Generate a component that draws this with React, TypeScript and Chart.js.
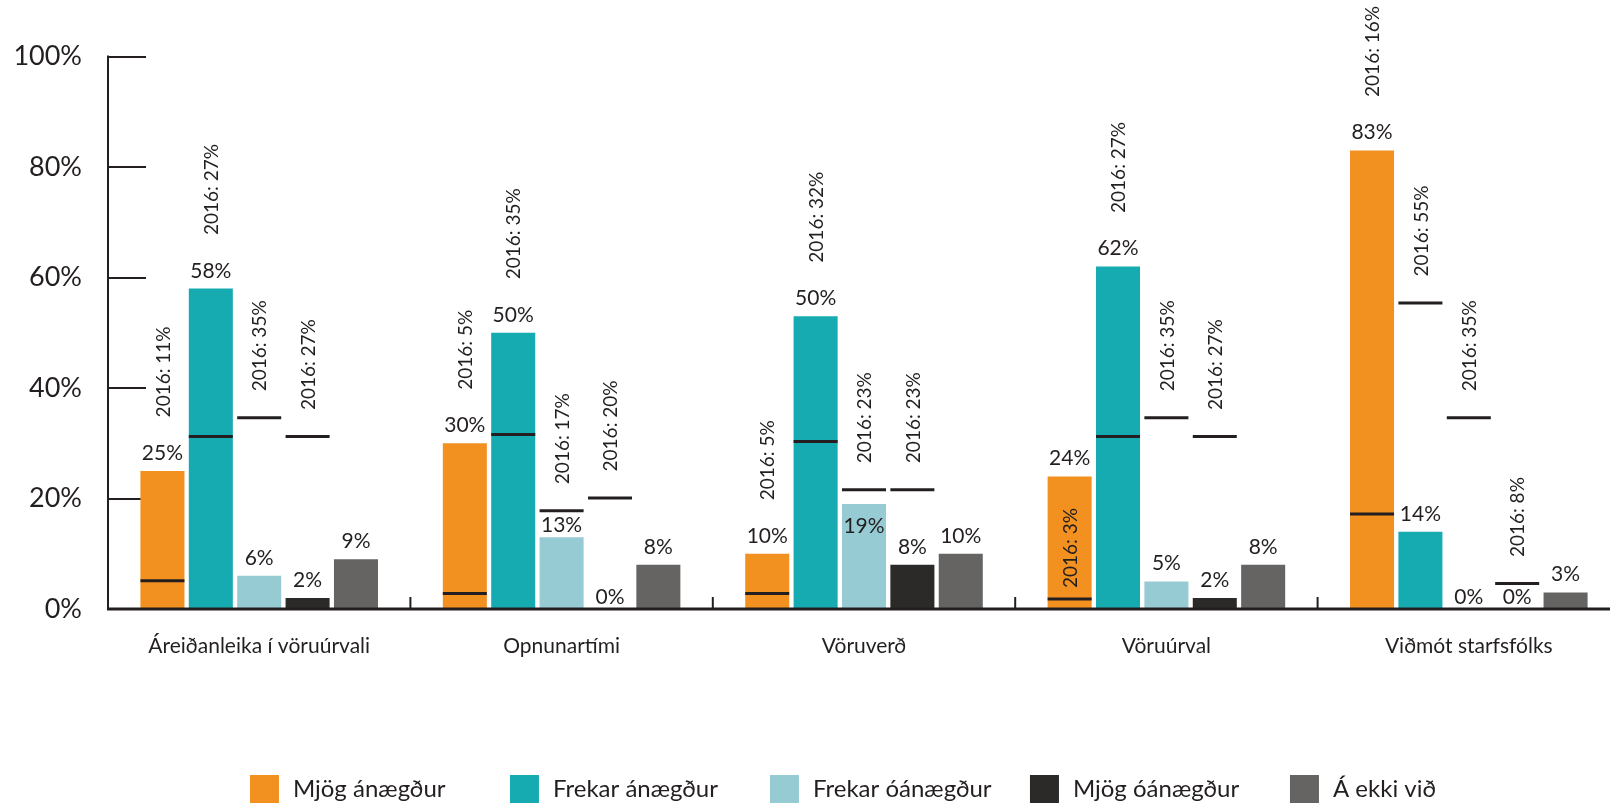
import React, { useEffect, useRef } from 'react';
import { Chart, registerables } from 'chart.js';

Chart.register(...registerables);

const INK = '#231f20';

const categories = ['Áreiðanleika í vöruúrvali', 'Opnunartími', 'Vöruverð', 'Vöruúrval', 'Viðmót starfsfólks'];
const seriesNames = ['Mjög ánægður', 'Frekar ánægður', 'Frekar óánægður', 'Mjög óánægður', 'Á ekki við'];
const seriesColors = ['#f29020', '#15abb1', '#97cbd4', '#2b2a29', '#656463'];

// bar heights (as drawn)
const mjogAnaegdur = [25, 30, 10, 24, 83];
const frekarAnaegdur = [58, 50, 53, 62, 14];
const frekarOanaegdur = [6, 13, 19, 5, 0];
const mjogOanaegdur = [2, 0, 8, 2, 0];
const aEkkiVid = [9, 8, 10, 8, 3];

// printed value labels
const mjogAnaegdurLabels = [25, 30, 10, 24, 83];
const frekarAnaegdurLabels = [58, 50, 50, 62, 14];
const frekarOanaegdurLabels = [6, 13, 19, 5, 0];
const mjogOanaegdurLabels = [2, 0, 8, 2, 0];
const aEkkiVidLabels = [9, 8, 10, 8, 3];

// 2016 marker heights (as drawn)
const mjogAnaegdur2016 = [5.1, 2.8, 2.8, 1.8, 17.2];
const frekarAnaegdur2016 = [31.2, 31.6, 30.3, 31.2, 55.4];
const frekarOanaegdur2016 = [34.6, 17.8, 21.6, 34.6, 34.6];
const mjogOanaegdur2016 = [31.2, 20.1, 21.6, 31.2, 4.6];

// printed 2016 labels
const mjogAnaegdur2016Labels = [11, 5, 5, 3, 16];
const frekarAnaegdur2016Labels = [27, 35, 32, 27, 55];
const frekarOanaegdur2016Labels = [35, 17, 23, 35, 35];
const mjogOanaegdur2016Labels = [27, 20, 23, 27, 8];

const yTicks = [0, 20, 40, 60, 80, 100];

// 2016 label drawn inside its bar: [category, series]
const insideMarkerLabels = [[3, 0]];

const seriesValues = [mjogAnaegdur, frekarAnaegdur, frekarOanaegdur, mjogOanaegdur, aEkkiVid];
const seriesLabels = [mjogAnaegdurLabels, frekarAnaegdurLabels, frekarOanaegdurLabels, mjogOanaegdurLabels, aEkkiVidLabels];
const markers = [mjogAnaegdur2016, frekarAnaegdur2016, frekarOanaegdur2016, mjogOanaegdur2016];
const markerLabels = [mjogAnaegdur2016Labels, frekarAnaegdur2016Labels, frekarOanaegdur2016Labels, mjogOanaegdur2016Labels];

const FONT = 'Lato';

const annotate = {
  id: 'annotate',
  beforeDatasetsDraw(chart: any) {
    const { ctx, chartArea, scales } = chart;
    const y = scales.y;
    ctx.save();
    ctx.strokeStyle = INK;
    ctx.lineWidth = 2;
    for (const t of yTicks) {
      if (t === 0) continue;
      const py = Math.round(y.getPixelForValue(t));
      ctx.beginPath();
      ctx.moveTo(chartArea.left, py);
      ctx.lineTo(chartArea.left + 38, py);
      ctx.stroke();
    }
    ctx.restore();
  },
  afterDatasetsDraw(chart: any) {
    const { ctx, chartArea, scales } = chart;
    const y = scales.y;
    const y0 = y.getPixelForValue(0);
    ctx.save();
    ctx.strokeStyle = INK;
    // y axis line
    ctx.lineWidth = 2;
    ctx.beginPath();
    ctx.moveTo(chartArea.left, y.getPixelForValue(100) - 1);
    ctx.lineTo(chartArea.left, y0);
    ctx.stroke();
    // category boundary ticks
    const catW = (chartArea.right - chartArea.left) / categories.length;
    for (let k = 1; k <= categories.length; k++) {
      const px = chartArea.left + k * catW;
      ctx.beginPath();
      ctx.moveTo(px, y0);
      ctx.lineTo(px, y0 - 12);
      ctx.stroke();
    }
    // x axis line
    ctx.lineWidth = 3;
    ctx.beginPath();
    ctx.moveTo(chartArea.left - 1, y0);
    ctx.lineTo(chartArea.right + 20, y0);
    ctx.stroke();

    // markers
    ctx.lineWidth = 3;
    markers.forEach((arr, s) => {
      const meta = chart.getDatasetMeta(s);
      arr.forEach((v, i) => {
        const bar = meta.data[i];
        const py = y.getPixelForValue(v);
        ctx.beginPath();
        ctx.moveTo(bar.x - bar.width / 2, py);
        ctx.lineTo(bar.x + bar.width / 2, py);
        ctx.stroke();
      });
    });

    // value labels and 2016 labels
    ctx.fillStyle = INK;
    seriesValues.forEach((vals, s) => {
      const meta = chart.getDatasetMeta(s);
      vals.forEach((v, i) => {
        const bar = meta.data[i];
        const m = s < markers.length ? markers[s][i] : null;
        const mp = m !== null ? y.getPixelForValue(m) : null;
        const inside = m !== null && m - v > 0 && m - v < 4;
        let baseline: number;
        if (inside) baseline = bar.y + 29;
        else if (v === 0) baseline = y0 - 5;
        else {
          baseline = bar.y - 11;
          if (mp !== null && m! > v && mp + 21 > baseline) baseline = Math.min(bar.y - 4, mp + 21);
        }
        ctx.font = `21px ${FONT}`;
        ctx.textAlign = 'center';
        ctx.textBaseline = 'alphabetic';
        ctx.fillText(`${seriesLabels[s][i]}%`, bar.x, baseline);
        if (m === null || mp === null) return;
        const special = insideMarkerLabels.some(([c, ss]) => c === i && ss === s);
        let anchor: number;
        if (special) anchor = mp - 11;
        else {
          const top = inside ? bar.y : baseline - 16;
          anchor = Math.min(top, mp) - 26.5;
        }
        ctx.save();
        ctx.translate(bar.x + 1, anchor);
        ctx.rotate(-Math.PI / 2);
        ctx.font = `19px ${FONT}`;
        ctx.textAlign = 'left';
        ctx.textBaseline = 'middle';
        ctx.fillText(`2016: ${markerLabels[s][i]}%`, 0, 0);
        ctx.restore();
      });
    });

    // legend (fixed-pitch slots, centred under the plot)
    ctx.font = `24px ${FONT}`;
    ctx.textAlign = 'left';
    ctx.textBaseline = 'middle';
    const box = 29, textGap = 14, slot = 260;
    const lastW = box + textGap + ctx.measureText(seriesNames[seriesNames.length - 1]).width;
    const total = slot * (seriesNames.length - 1) + lastW;
    let lx = 843 - total / 2;
    const boxTop = 775;
    seriesNames.forEach((n, s) => {
      ctx.fillStyle = seriesColors[s];
      ctx.fillRect(lx, boxTop, box, box - 1);
      ctx.fillStyle = INK;
      ctx.fillText(n, lx + box + textGap, boxTop + box / 2);
      lx += slot;
    });
    ctx.restore();
  },
};

export default function App() {
  const ref = useRef<HTMLCanvasElement | null>(null);
  useEffect(() => {
    if (!ref.current) return;
    Chart.defaults.font.family = FONT;
    Chart.defaults.color = INK;
    const chart = new Chart(ref.current, {
      type: 'bar',
      data: {
        labels: categories,
        datasets: seriesNames.map((name, s) => ({
          label: name,
          data: seriesValues[s],
          backgroundColor: seriesColors[s],
          borderWidth: 0,
          barPercentage: 0.91,
          categoryPercentage: 0.8,
        })),
      },
      options: {
        responsive: false,
        animation: false,
        layout: { padding: { top: 56.5, right: 2, bottom: 0, left: 0 } },
        plugins: { legend: { display: false }, tooltip: { enabled: false } },
        scales: {
          x: {
            grid: { display: false, drawTicks: false },
            border: { display: false },
            ticks: { font: { size: 21 }, color: INK, padding: 25, maxRotation: 0, autoSkip: false },
            afterFit: (scale: any) => {
              scale.height = 198;
            },
          },
          y: {
            min: 0,
            max: 100,
            grid: { display: false, drawTicks: false },
            border: { display: false },
            afterBuildTicks: (scale: any) => {
              scale.ticks = yTicks.map((v) => ({ value: v }));
            },
            ticks: {
              font: { size: 27 },
              color: INK,
              padding: 26,
              callback: (v: any) => `${v}%`,
            },
            afterFit: (scale: any) => {
              scale.width = 108;
            },
          },
        },
      },
      plugins: [annotate],
    });
    return () => chart.destroy();
  }, []);
  return (
    <div style={{ position: 'fixed', left: 0, top: 0, width: 1610, height: 807, overflow: 'hidden', background: '#fff' }}>
      <canvas ref={ref} width={1622} height={807} style={{ display: 'block' }} />
    </div>
  );
}
